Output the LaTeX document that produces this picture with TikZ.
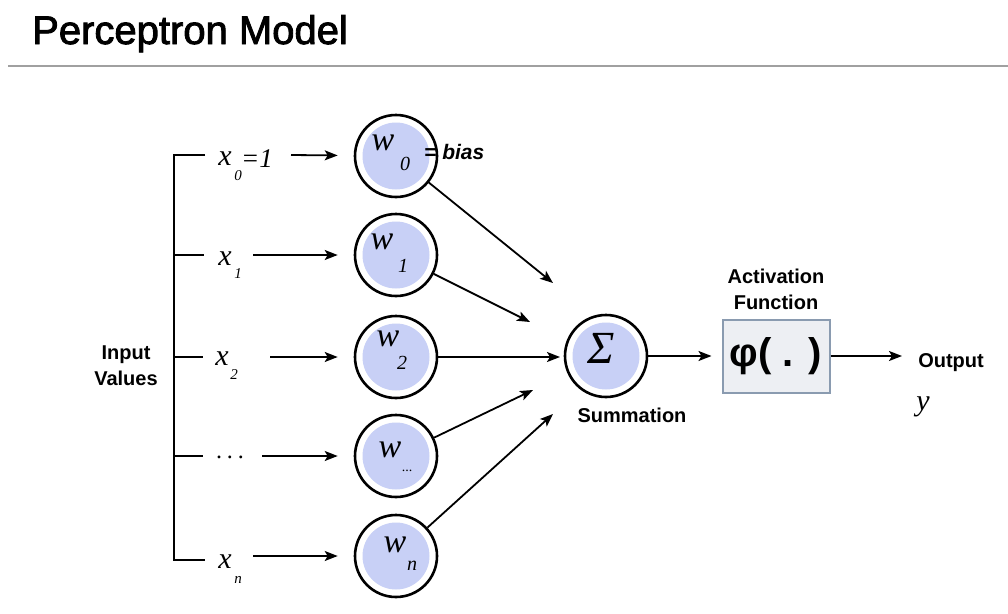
\documentclass[tikz,border=0pt]{standalone}
\usepackage{fontspec}
\setmainfont{Liberation Serif}
\newfontfamily\sansf{Liberation Sans}
\newfontfamily\titlef[FakeBold=2.2]{Liberation Sans}
\usetikzlibrary{arrows.meta}
\definecolor{wfill}{HTML}{C8D0F6}
\definecolor{boxfill}{HTML}{EDEFF3}
\definecolor{boxline}{HTML}{8A9BB0}
\definecolor{rule}{HTML}{A0A0A0}
\begin{document}
\begin{tikzpicture}[x=1pt,y=-1pt,
  neuron/.style={circle, draw=black, line width=2.6pt, fill=white, minimum size=82pt, inner sep=0pt,
     path picture={\fill[wfill] (path picture bounding box.center) circle (33.5pt);}},
  conn/.style={line width=1.8pt, -{Stealth[length=13pt,width=10pt,inset=3pt]}},
  brk/.style={line width=2.4pt},
  mathlbl/.style={font=\fontsize{30}{30}\selectfont\itshape, inner sep=0pt},
  wlbl/.style={font=\fontsize{34}{34}\selectfont\itshape, inner sep=0pt},
  sublbl/.style={font=\fontsize{20}{20}\selectfont\itshape, inner sep=0pt},
  xsub/.style={font=\fontsize{15}{15}\selectfont\itshape, inner sep=0pt},
  boldlbl/.style={font=\sansf\bfseries\fontsize{20}{26}\selectfont, inner sep=0pt, align=center},
]
\useasboundingbox (0,0) rectangle (1008,613);

% title and rule
\node[anchor=base west, font=\titlef\fontsize{40}{40}\selectfont, inner sep=0pt] (title) at (32,44) {Perceptron Model};
\draw[rule, line width=1.6pt] (8,66) -- (1008,66);

% bracket
\draw[brk] (205,155) -- (174,155) -- (174,560) -- (205,560);
\draw[brk] (174,255) -- (204,255);
\draw[brk] (174,357) -- (203,357);
\draw[brk] (174,456) -- (203,456);

% input labels
\node[mathlbl] (x0) at (225,159) {x};
\node[xsub] (x0s) at (238,176) {0};
\node[font=\fontsize{27}{27}\selectfont\itshape, inner sep=0pt] (x0e) at (257,159) {=1};
\node[mathlbl] (x1) at (225,259) {x};
\node[xsub] (x1s) at (238,274) {1};
\node[mathlbl] (x2) at (222,359) {x};
\node[xsub] (x2s) at (234,375) {2};
\node[font=\fontsize{24}{24}\selectfont, inner sep=0pt] (xd) at (230,457) {.\hspace{5pt}.\hspace{5pt}.};
\node[mathlbl] (xn) at (225,562) {x};
\node[xsub] (xns) at (238,580) {n};
\node[boldlbl] (inp) at (126,366) {Input\\Values};

% weight neurons
\node[neuron] (w0) at (396,156) {};
\node[neuron] (w1) at (396,255) {};
\node[neuron] (w2) at (396,357) {};
\node[neuron] (w3) at (396,456) {};
\node[neuron] (w4) at (396,556) {};

\node[wlbl] at (383,143) {w};
\node[sublbl] at (405,164) {0};
\node[wlbl] at (382,242) {w};
\node[sublbl] at (403,266) {1};
\node[wlbl] at (388,339) {w};
\node[sublbl] at (402,363) {2};
\node[wlbl] at (390,450) {w};
\node[font=\fontsize{14}{14}\selectfont, inner sep=0pt] at (407,471) {...};
\node[wlbl] at (395,545) {w};
\node[sublbl] at (412,566) {n};

\node[font=\sansf\bfseries\itshape\fontsize{21}{21}\selectfont, inner sep=0pt, anchor=west] (bias) at (424,152) {= bias};

% input arrows
\coordinate (a0) at (291,155);
\coordinate (a1) at (253,255);
\coordinate (a2) at (270,357);
\coordinate (a3) at (262,456);
\coordinate (a4) at (253,556);
\draw[conn, shorten >=16pt] (a0) -- (w0);
\draw[conn, shorten >=16pt] (a1) -- (w1);
\draw[conn, shorten >=16pt] (a2) -- (w2);
\draw[conn, shorten >=16pt] (a3) -- (w3);
\draw[conn, shorten >=16pt] (a4) -- (w4);

% summation
\node[neuron] (sum) at (606,356) {};
\node[font=\fontsize{46}{46}\selectfont\itshape, inner sep=0pt] at (601,348) {Σ};
\node[boldlbl] (sumlbl) at (632,415) {Summation};

\coordinate (t0) at (553,283);
\coordinate (t1) at (530,322);
\coordinate (t2) at (560,357);
\coordinate (t3) at (533,390);
\coordinate (t4) at (553,414);
\draw[conn] (w0) -- (t0);
\draw[conn] (w1) -- (t1);
\draw[conn] (w2) -- (t2);
\draw[conn] (w3) -- (t3);
\draw[conn] (w4) -- (t4);

% activation
\node[draw=boxline, fill=boxfill, line width=2pt, minimum width=107pt, minimum height=73pt, inner sep=0pt,
  font=\sansf\bfseries\fontsize{40}{40}\selectfont] (act) at (776,356) {φ( . )};
\node[boldlbl] (actlbl) at (776,289) {Activation\\Function};
\draw[conn, shorten >=10pt] (sum.east) -- (act.west);

% output
\coordinate (oend) at (902,356);
\draw[conn] (act.east) -- (oend);
\node[boldlbl] (out) at (951,363) {Output};
\node[mathlbl] (yv) at (923,407) {y};
\end{tikzpicture}
\end{document}
